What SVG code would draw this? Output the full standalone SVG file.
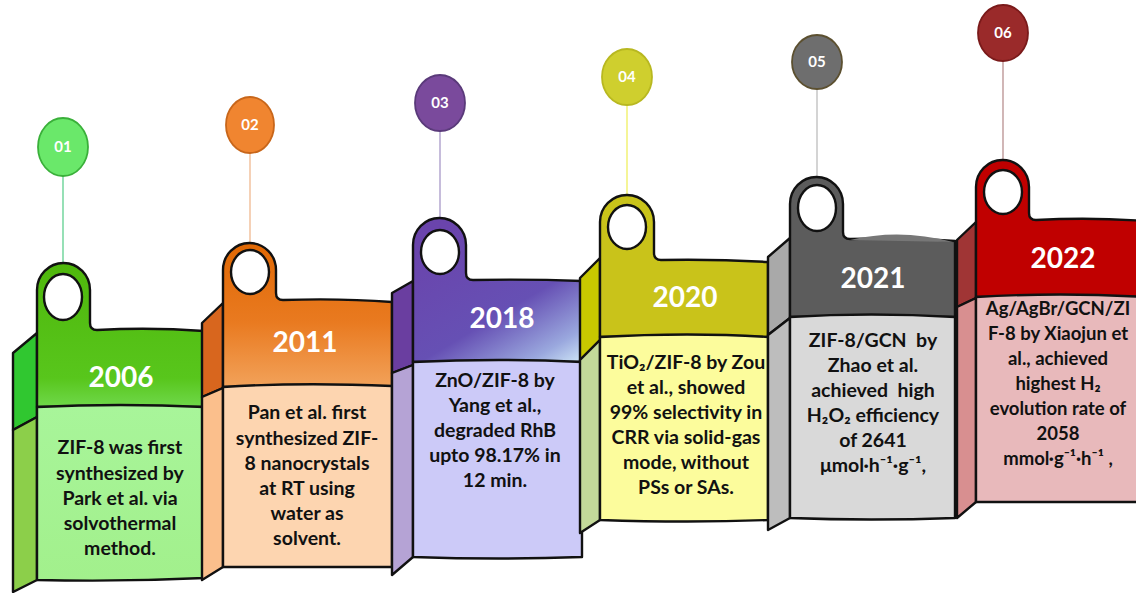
<svg xmlns="http://www.w3.org/2000/svg" width="1136" height="593" viewBox="0 0 1136 593">
<defs>
<style>
.ol{stroke:#111;stroke-width:2.4;stroke-linejoin:round;stroke-linecap:round}
.hole{fill:#fff;stroke:#111;stroke-width:2.4}
.yr{font-family:Lato,"Liberation Sans",sans-serif;font-weight:700;font-size:28px;fill:#fff;text-anchor:middle}
.bt{font-family:Lato,"Liberation Sans",sans-serif;font-weight:700;font-size:19.5px;fill:#111;text-anchor:middle}
.bs{font-family:Lato,"Liberation Sans",sans-serif;font-weight:700;font-size:18.5px;fill:#111;text-anchor:middle}
.num{font-family:Lato,"Liberation Sans",sans-serif;font-weight:700;font-size:15px;fill:#fff;text-anchor:middle}
.cn{fill:none;stroke-width:1.3}
</style>
<linearGradient id="g1" x1="0" y1="0" x2="0" y2="1"><stop offset="0" stop-color="#4fb70c"/><stop offset="0.8" stop-color="#58c61c"/><stop offset="1" stop-color="#6fd84a"/></linearGradient>
<linearGradient id="g2" x1="0" y1="0" x2="0" y2="1"><stop offset="0" stop-color="#e06804"/><stop offset="0.55" stop-color="#e97a20"/><stop offset="1" stop-color="#f2a25a"/></linearGradient>
<linearGradient id="g3" x1="0.3" y1="0" x2="1" y2="1"><stop offset="0" stop-color="#6a44ac"/><stop offset="0.55" stop-color="#6650b4"/><stop offset="0.85" stop-color="#9aa8de"/><stop offset="1" stop-color="#cfe6f6"/></linearGradient>
<linearGradient id="b1" x1="0" y1="0" x2="0" y2="1"><stop offset="0" stop-color="#a8f59a"/><stop offset="1" stop-color="#a2f08c"/></linearGradient>
</defs>
<rect width="1136" height="593" fill="#fff"/>

<g id="connectors">
<line class="cn" x1="63" y1="176" x2="63" y2="264" stroke="#5fcf8f"/>
<line class="cn" x1="250" y1="153" x2="250" y2="244" stroke="#f0b890"/>
<line class="cn" x1="440" y1="131" x2="440" y2="219" stroke="#a898c8"/>
<line class="cn" x1="627" y1="105" x2="627" y2="196" stroke="#f0f060"/>
<line class="cn" x1="817" y1="89" x2="817" y2="178" stroke="#bdbdbd"/>
<line class="cn" x1="1003" y1="61" x2="1003" y2="161" stroke="#b89090"/>
</g>

<g id="badge01"><ellipse cx="63" cy="147" rx="25" ry="29" fill="#6ae86a" stroke="#3ab03a" stroke-width="1.8"/><text class="num" x="63" y="152">01</text></g>
<g id="badge02"><ellipse cx="250" cy="125" rx="24" ry="28" fill="#f08530" stroke="#c8661a" stroke-width="1.8"/><text class="num" x="250" y="130">02</text></g>
<g id="badge03"><ellipse cx="440" cy="103" rx="25" ry="28" fill="#7a4a9c" stroke="#5a3a7a" stroke-width="1.8"/><text class="num" x="440" y="108">03</text></g>
<g id="badge04"><ellipse cx="627" cy="77" rx="25" ry="28" fill="#cfcf2e" stroke="#b8b820" stroke-width="1.8"/><text class="num" x="627" y="82">04</text></g>
<g id="badge05"><ellipse cx="817" cy="62" rx="25" ry="27" fill="#6e6e6e" stroke="#5c5030" stroke-width="1.8"/><text class="num" x="817" y="67">05</text></g>
<g id="badge06"><ellipse cx="1003" cy="33" rx="25" ry="28" fill="#9a2a2a" stroke="#7a1a1a" stroke-width="1.8"/><text class="num" x="1003" y="38">06</text></g>

<g id="panel2006">
<path class="ol" d="M13,353 L37,333 L37,417 L13,430 Z" fill="#30c730"/>
<path class="ol" d="M13,430 L37,417 L37,580 L13,592 Z" fill="#8ccf4a"/>
<path class="ol" d="M37,407 L37,290 A26.5,27 0 0 1 90,290 L90,323 Q90,330 97,330 Q150,327 204,331 L204,407 Z" fill="url(#g1)"/>
<path class="ol" d="M37,407 Q120,403 204,407 L204,578 Q120,582 37,580 Z" fill="url(#b1)"/>
<ellipse class="hole" cx="63" cy="297" rx="19" ry="23"/>
<text class="yr" x="121" y="387">2006</text>
<text class="bt" x="120" y="454">ZIF-8 was first</text>
<text class="bt" x="120" y="480">synthesized by</text>
<text class="bt" x="120" y="505">Park et al. via</text>
<text class="bt" x="120" y="530">solvothermal</text>
<text class="bt" x="120" y="555">method.</text>
</g>

<g id="panel2011">
<path class="ol" d="M202,323 L223,303 L223,388 L202,397 Z" fill="#d8661e"/>
<path class="ol" d="M202,397 L223,388 L223,567 L202,580 Z" fill="#fbbf8c"/>
<path class="ol" d="M223,387 L223,270 A26.5,27 0 0 1 276,270 L276,293 Q276,300 283,300 Q340,298 392,302 L392,387 Z" fill="url(#g2)"/>
<path class="ol" d="M223,387 Q300,382 392,386 L392,567 L223,567 Z" fill="#fdd5b0"/>
<ellipse class="hole" cx="250" cy="272" rx="19" ry="22"/>
<text class="yr" x="305" y="352">2011</text>
<text class="bt" x="307" y="419">Pan et al. first</text>
<text class="bt" x="307" y="445">synthesized ZIF-</text>
<text class="bt" x="307" y="470">8 nanocrystals</text>
<text class="bt" x="307" y="495">at RT using</text>
<text class="bt" x="307" y="520">water as</text>
<text class="bt" x="307" y="545">solvent.</text>
</g>

<g id="panel2018">
<path class="ol" d="M392,293 L413,281 L413,365 L392,373 Z" fill="#6a3ea0"/>
<path class="ol" d="M392,373 L413,365 L413,557 L392,575 Z" fill="#b5a3d5"/>
<path class="ol" d="M413,362 L413,245 A26.5,27 0 0 1 466,245 L466,273 Q466,280 473,280 Q530,279 582,281 L582,362 Z" fill="url(#g3)"/>
<path class="ol" d="M413,362 Q500,358 582,362 L582,557 Q500,560 413,557 Z" fill="#cccaf8"/>
<ellipse class="hole" cx="440" cy="252" rx="19" ry="22"/>
<text class="yr" x="502" y="328">2018</text>
<text class="bt" x="495" y="387">ZnO/ZIF-8 by</text>
<text class="bt" x="495" y="412">Yang et al.,</text>
<text class="bt" x="495" y="437">degraded RhB</text>
<text class="bt" x="495" y="462">upto 98.17% in</text>
<text class="bt" x="495" y="487">12 min.</text>
</g>

<g id="panel2020">
<path class="ol" d="M580,278 L600,258 L600,340 L580,360 Z" fill="#c8c800"/>
<path class="ol" d="M580,360 L600,340 L600,520 L580,533 Z" fill="#c3d99a"/>
<path class="ol" d="M600,337 L600,222 A27,27 0 0 1 654,222 L654,253 Q654,260 661,260 Q715,259 768,262 L768,337 Z" fill="#c9c31a"/>
<path class="ol" d="M600,337 Q690,332 768,337 L768,520 Q690,523 600,520 Z" fill="#fcfc9c"/>
<ellipse class="hole" cx="627" cy="227" rx="19" ry="22"/>
<text class="yr" x="685" y="307">2020</text>
<text class="bt" x="686" y="369">TiO₂/ZIF-8 by Zou</text>
<text class="bt" x="686" y="394">et al., showed</text>
<text class="bt" x="686" y="419">99% selectivity in</text>
<text class="bt" x="686" y="444">CRR via solid-gas</text>
<text class="bt" x="686" y="469">mode, without</text>
<text class="bt" x="686" y="494">PSs or SAs.</text>
</g>

<g id="panel2021">
<path class="ol" d="M768,257 L790,238 L790,318 L768,335 Z" fill="#a9a9a9"/>
<path class="ol" d="M768,335 L790,318 L790,518 L768,530 Z" fill="#bdbdbd"/>
<path class="ol" d="M790,317 L790,204 A26.5,27 0 0 1 843,204 L843,232 Q843,239 850,239 Q905,237 955,241 L955,317 Z" fill="#5c5c5c"/>
<path d="M850,240 Q900,228 953,242 Z" fill="#777"/>
<path class="ol" d="M790,317 Q870,312 955,317 L955,518 Q870,521 790,518 Z" fill="#d9d9d9"/>
<ellipse class="hole" cx="817" cy="208" rx="19" ry="23"/>
<text class="yr" x="873" y="288">2021</text>
<text class="bt" x="873" y="347" xml:space="preserve">ZIF-8/GCN  by</text>
<text class="bt" x="873" y="372">Zhao et al.</text>
<text class="bt" x="873" y="397" xml:space="preserve">achieved  high</text>
<text class="bt" x="873" y="422">H₂O₂ efficiency</text>
<text class="bt" x="873" y="447">of 2641</text>
<text class="bt" x="873" y="472">μmol·h⁻¹·g⁻¹,</text>
</g>

<g id="panel2022">
<path class="ol" d="M957,240 L976,222 L976,298 L957,307 Z" fill="#a03535"/>
<path class="ol" d="M957,307 L976,298 L976,502 L957,518 Z" fill="#d88f90"/>
<path class="ol" d="M976,297 L976,187 A26.5,27 0 0 1 1029,187 L1029,213 Q1029,220 1036,220 Q1090,217 1145,221 L1145,297 Z" fill="#c00000"/>
<path class="ol" d="M976,297 Q1060,292 1145,297 L1145,502 L976,502 Z" fill="#e8b9bb"/>
<ellipse class="hole" cx="1003" cy="192" rx="19" ry="22"/>
<text class="yr" x="1063" y="268">2022</text>
<text class="bs" x="1058" y="315">Ag/AgBr/GCN/ZI</text>
<text class="bs" x="1058" y="340">F-8 by Xiaojun et</text>
<text class="bs" x="1058" y="365">al., achieved</text>
<text class="bs" x="1058" y="390">highest H₂</text>
<text class="bs" x="1058" y="415">evolution rate of</text>
<text class="bs" x="1058" y="440">2058</text>
<text class="bs" x="1058" y="465">mmol·g⁻¹·h⁻¹ ,</text>
</g>
</svg>
